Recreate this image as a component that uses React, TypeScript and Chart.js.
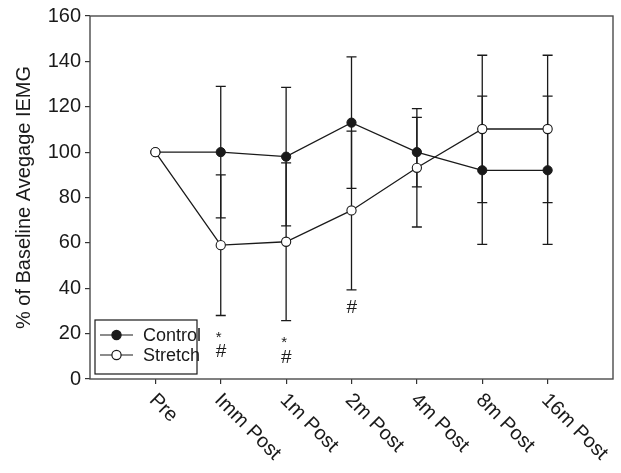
import React, { useEffect, useRef } from 'react';
import { Chart, registerables } from 'chart.js';

Chart.register(...registerables);

const categories = ['Pre', 'Imm Post', '1m Post', '2m Post', '4m Post', '8m Post', '16m Post'];
const controlMean = [100, 100, 98, 113, 100, 92, 92];
const controlSD = [0, 29, 30.5, 29, 15.3, 32.7, 32.7];
const stretchMean = [100, 59, 60.5, 74.3, 93.1, 110.2, 110.2];
const stretchSD = [0, 31, 34.8, 35, 26.1, 32.5, 32.5];
const seriesNames = ['Control', 'Stretch'];
const yAxisTitle = '% of Baseline Avegage IEMG';
const markText = ['*', '#', '*', '#', '#'];
const markCategory = [1, 1, 2, 2, 3];
const markValue = [18, 12, 16, 9.5, 31.5];

const FONT = "'Liberation Sans', Arial, Helvetica, sans-serif";
const INK = '#1a1a1a';

const errorBarPlugin = {
  id: 'errorBars',
  beforeDatasetsDraw(chart: any) {
    const { ctx, chartArea, scales } = chart;
    const xs = scales.x;
    const ys = scales.y;
    ctx.save();
    // frame
    ctx.strokeStyle = '#4a4a4a';
    ctx.lineWidth = 1.4;
    ctx.strokeRect(chartArea.left, chartArea.top, chartArea.right - chartArea.left, chartArea.bottom - chartArea.top);
    ctx.strokeStyle = INK;
    ctx.lineWidth = 1.3;
    const series = [
      [controlMean, controlSD],
      [stretchMean, stretchSD],
    ];
    series.forEach(([m, sd]) => {
      m.forEach((v: number, i: number) => {
        const e = sd[i];
        if (!e) return;
        const x = xs.getPixelForValue(i + 1);
        const yt = ys.getPixelForValue(v + e);
        const yb = ys.getPixelForValue(v - e);
        ctx.beginPath();
        ctx.moveTo(x, yt);
        ctx.lineTo(x, yb);
        ctx.moveTo(x - 5, yt);
        ctx.lineTo(x + 5, yt);
        ctx.moveTo(x - 5, yb);
        ctx.lineTo(x + 5, yb);
        ctx.stroke();
      });
    });
    ctx.restore();
  },
  afterDraw(chart: any) {
    const { ctx, chartArea, scales } = chart;
    const xs = scales.x;
    const ys = scales.y;
    ctx.save();
    // rotated x labels
    ctx.fillStyle = INK;
    ctx.font = `20px ${FONT}`;
    ctx.textAlign = 'left';
    ctx.textBaseline = 'top';
    categories.forEach((c, i) => {
      const x = xs.getPixelForValue(i + 1);
      ctx.save();
      ctx.translate(x + 4, chartArea.bottom + 11);
      ctx.rotate(Math.PI / 4);
      ctx.fillText(c, 0, 0);
      ctx.restore();
    });
    // significance marks
    ctx.textAlign = 'center';
    ctx.textBaseline = 'middle';
    markText.forEach((t, i) => {
      const x = xs.getPixelForValue(markCategory[i] + 1);
      const y = ys.getPixelForValue(markValue[i]);
      ctx.font = t === '*' ? `15px ${FONT}` : `italic 19px ${FONT}`;
      ctx.fillText(t, x + (t === '*' ? -2 : 0), y);
    });
    // legend
    const bx = chartArea.left + 5;
    const by = 320;
    const bw = 102;
    const bh = 54;
    ctx.fillStyle = '#ffffff';
    ctx.fillRect(bx, by, bw, bh);
    ctx.strokeStyle = INK;
    ctx.lineWidth = 1.2;
    ctx.strokeRect(bx, by, bw, bh);
    const rows = [
      { y: by + 15, fill: INK },
      { y: by + 35, fill: '#ffffff' },
    ];
    rows.forEach((r, i) => {
      ctx.strokeStyle = INK;
      ctx.lineWidth = 1.2;
      ctx.beginPath();
      ctx.moveTo(bx + 5, r.y);
      ctx.lineTo(bx + 38, r.y);
      ctx.stroke();
      ctx.beginPath();
      ctx.arc(bx + 21.5, r.y, 4.6, 0, Math.PI * 2);
      ctx.fillStyle = r.fill;
      ctx.fill();
      ctx.stroke();
      ctx.fillStyle = INK;
      ctx.font = `18px ${FONT}`;
      ctx.textAlign = 'left';
      ctx.textBaseline = 'middle';
      ctx.fillText(seriesNames[i], bx + 48, r.y + 1);
    });
    ctx.restore();
  },
};

export default function App() {
  const ref = useRef<HTMLCanvasElement | null>(null);
  useEffect(() => {
    if (!ref.current) return;
    const chart = new Chart(ref.current, {
      type: 'line',
      data: {
        datasets: [
          {
            label: seriesNames[0],
            data: controlMean.map((v, i) => ({ x: i + 1, y: v })),
            borderColor: INK,
            borderWidth: 1.3,
            backgroundColor: INK,
            pointBackgroundColor: INK,
            pointBorderColor: INK,
            pointBorderWidth: 1,
            pointRadius: 4.6,
            tension: 0,
            order: 1,
          },
          {
            label: seriesNames[1],
            data: stretchMean.map((v, i) => ({ x: i + 1, y: v })),
            borderColor: INK,
            borderWidth: 1.3,
            backgroundColor: '#ffffff',
            pointBackgroundColor: '#ffffff',
            pointBorderColor: INK,
            pointBorderWidth: 1.1,
            pointRadius: 4.6,
            tension: 0,
            order: 0,
          },
        ],
      },
      options: {
        animation: false,
        responsive: false,
        devicePixelRatio: 1,
        layout: { padding: { top: 13, right: 8, left: 0, bottom: 0 } },
        plugins: { legend: { display: false }, tooltip: { enabled: false } },
        scales: {
          x: {
            type: 'linear',
            min: 0,
            max: 8,
            afterBuildTicks: (s: any) => {
              s.ticks = categories.map((_, i) => ({ value: i + 1 }));
            },
            afterFit: (s: any) => {
              s.height = 94;
            },
            ticks: { display: false },
            grid: { drawOnChartArea: false, drawTicks: true, tickLength: 5, color: '#333', lineWidth: 1.2 },
            border: { display: false },
          },
          y: {
            min: 0,
            max: 160,
            afterFit: (s: any) => {
              s.width = 90;
            },
            ticks: { stepSize: 20, color: INK, font: { family: FONT, size: 20 }, padding: 4 },
            grid: { drawOnChartArea: false, drawTicks: true, tickLength: 5, color: '#333', lineWidth: 1.2 },
            border: { display: false },
            title: {
              display: true,
              text: yAxisTitle,
              color: INK,
              font: { family: FONT, size: 20 },
              padding: { top: 12, bottom: 0 },
            },
          },
        },
      },
      plugins: [errorBarPlugin],
    } as any);
    return () => chart.destroy();
  }, []);
  return (
    <div style={{ position: 'absolute', left: 0, top: 0, width: 621, height: 473, background: '#fff' }}>
      <canvas ref={ref} width={621} height={473} />
    </div>
  );
}
